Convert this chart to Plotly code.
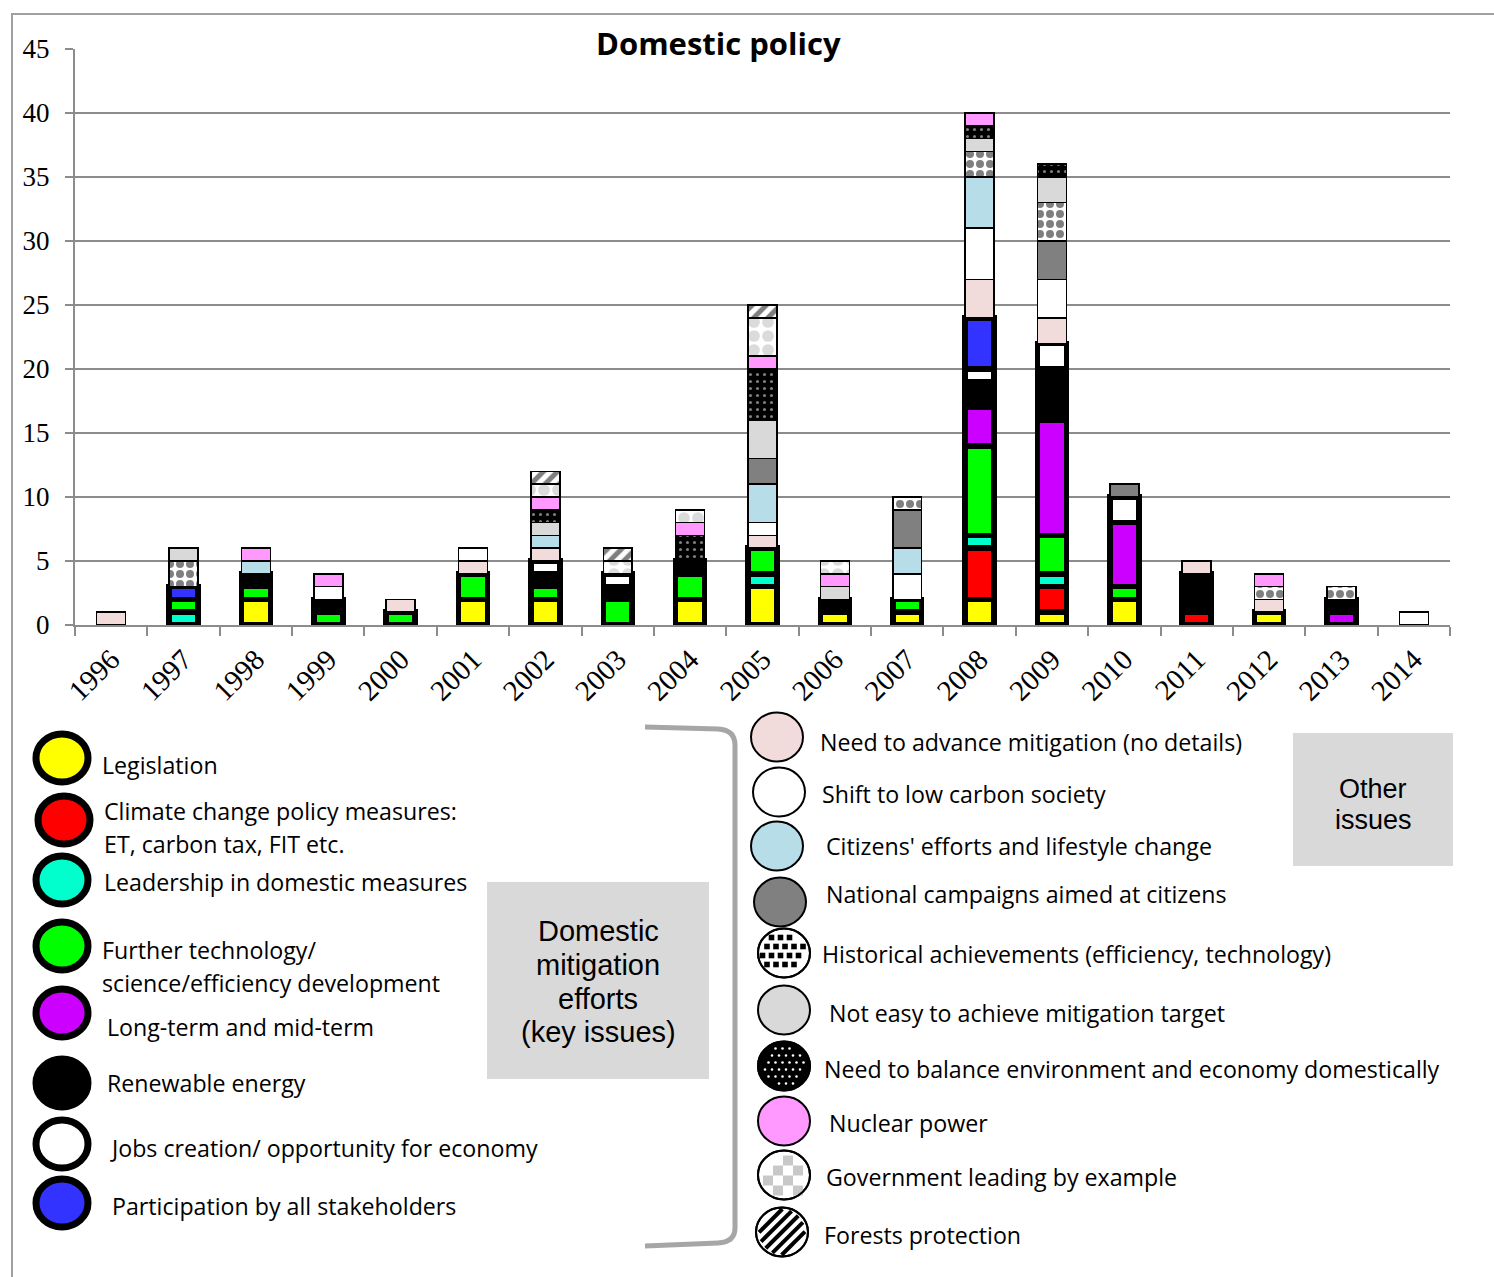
import plotly.graph_objects as go
import math

years = [str(y) for y in range(1996, 2015)]

# Key issues (domestic mitigation efforts)
legislation   = [0,0,2,0,0,2,2,0,2,3,1,1,2,1,2,0,1,0,0]
climate_pol   = [0,0,0,0,0,0,0,0,0,0,0,0,4,2,0,1,0,0,0]
leadership    = [0,1,0,0,0,0,0,0,0,1,0,0,1,1,0,0,0,0,0]
technology    = [0,1,1,1,1,2,1,2,2,2,0,1,7,3,1,0,0,0,0]
long_term     = [0,0,0,0,0,0,0,0,0,0,0,0,3,9,5,0,0,1,0]
renewable     = [0,0,1,1,0,0,1,1,1,0,1,0,2,4,0,3,0,1,0]
jobs          = [0,0,0,0,0,0,1,1,0,0,0,0,1,2,2,0,0,0,0]
participation = [0,1,0,0,0,0,0,0,0,0,0,0,4,0,0,0,0,0,0]
# Other issues
need_advance  = [1,0,0,0,1,1,1,0,0,1,0,0,3,2,0,1,1,0,0]
shift_lowc    = [0,0,0,1,0,1,0,0,0,1,0,2,4,3,0,0,0,0,1]
citizens      = [0,0,1,0,0,0,1,0,0,3,0,2,4,0,0,0,0,0,0]
national_camp = [0,0,0,0,0,0,0,0,0,2,0,3,0,3,1,0,0,0,0]
historical    = [0,2,0,0,0,0,0,0,0,0,0,1,2,3,0,0,1,1,0]
not_easy      = [0,1,0,0,0,0,1,0,0,3,1,0,1,2,0,0,0,0,0]
balance       = [0,0,0,0,0,0,1,0,2,4,0,0,1,1,0,0,0,0,0]
nuclear       = [0,0,1,1,0,0,1,0,1,1,1,0,1,0,0,0,1,0,0]
government    = [0,0,0,0,0,0,1,1,1,3,1,0,0,0,0,0,0,0,0]
forests       = [0,0,0,0,0,0,1,1,0,1,0,0,0,0,0,0,0,0,0]

key_series = [
    ("Legislation", legislation, "#FFFF00"),
    ("Climate change policy measures", climate_pol, "#FF0000"),
    ("Leadership in domestic measures", leadership, "#00FFCC"),
    ("Further technology", technology, "#00FF00"),
    ("Long-term and mid-term", long_term, "#CC00FF"),
    ("Renewable energy", renewable, "#000000"),
    ("Jobs creation", jobs, "#FFFFFF"),
    ("Participation by all stakeholders", participation, "#3333FF"),
]
other_series = [
    ("Need to advance mitigation", need_advance, "#F2DCDB", None),
    ("Shift to low carbon society", shift_lowc, "#FFFFFF", None),
    ("Citizens' efforts", citizens, "#B7DEE8", None),
    ("National campaigns", national_camp, "#808080", None),
    ("Historical achievements", historical, "#FFFFFF", dict(shape=".", fgcolor="#000000", bgcolor="#FFFFFF", size=10, solidity=0.5)),
    ("Not easy", not_easy, "#D9D9D9", None),
    ("Need to balance", balance, "#000000", dict(shape=".", fgcolor="#FFFFFF", bgcolor="#000000", size=7, solidity=0.15)),
    ("Nuclear power", nuclear, "#FF99FF", None),
    ("Government leading by example", government, "#FFFFFF", dict(shape=".", fgcolor="#B8B8B8", bgcolor="#FFFFFF", size=14, solidity=0.55)),
    ("Forests protection", forests, "#FFFFFF", dict(shape="/", fgcolor="#000000", bgcolor="#FFFFFF", size=10, solidity=0.5)),
]

def nz(v):
    return [x if x else None for x in v]

fig = go.Figure()
for name, vals, col in key_series:
    fig.add_trace(go.Bar(x=years, y=nz(vals), name=name,
                         marker=dict(color=col, line=dict(color="#000000", width=5.5))))
for name, vals, col, pat in other_series:
    m = dict(color=col, line=dict(color="#000000", width=1.5))
    if pat:
        m["pattern"] = pat
    fig.add_trace(go.Bar(x=years, y=nz(vals), name=name, marker=m))

L, R, T, B = 75, 1450, 49, 625
def PX(x): return (x - L) / (R - L)
def PY(y): return (B - y) / (B - T)

shapes = []
annotations = []

# outer frame
shapes.append(dict(type="rect", xref="paper", yref="paper", x0=PX(12), x1=PX(1520), y0=PY(14), y1=PY(1300),
                   line=dict(color="#A0A0A0", width=2), fillcolor="rgba(0,0,0,0)", layer="below"))

# title
annotations.append(dict(text="<b>Domestic policy</b>", x=PX(718), y=PY(43), xref="paper", yref="paper",
                        showarrow=False, xanchor="center", yanchor="middle", bgcolor="#FFFFFF",
                        font=dict(family="Open Sans", size=31, color="#000000")))

FS = 23.2

def circle(cx, cy, rx, ry, fill, lw):
    shapes.append(dict(type="circle", xref="paper", yref="paper", x0=PX(cx - rx), x1=PX(cx + rx),
                       y0=PY(cy + ry), y1=PY(cy - ry), fillcolor=fill, line=dict(color="#000000", width=lw)))

def text(s, x, y, size=FS, anchor="left"):
    annotations.append(dict(text=s, x=PX(x), y=PY(y), xref="paper", yref="paper", showarrow=False,
                            xanchor=anchor, yanchor="middle", font=dict(family="Open Sans", size=size, color="#000000")))

# left legend (key issues)
left_items = [
    ((62, 758), "#FFFF00", [("Legislation", 100, 765)]),
    ((64, 820), "#FF0000", [("Climate change policy measures:", 102, 811), ("ET, carbon tax, FIT etc.", 102, 844)]),
    ((62, 880), "#00FFCC", [("Leadership in domestic measures", 102, 882)]),
    ((62, 946), "#00FF00", [("Further technology/", 100, 950), ("science/efficiency development", 100, 983)]),
    ((62, 1013), "#CC00FF", [("Long-term and mid-term", 105, 1027)]),
    ((62, 1083), "#000000", [("Renewable energy", 105, 1083)]),
    ((62, 1144), "#FFFFFF", [("Jobs creation/ opportunity for economy", 108, 1148)]),
    ((62, 1203), "#3333FF", [("Participation by all stakeholders", 110, 1206)]),
]
for (cx, cy), col, lines in left_items:
    circle(cx, cy, 26, 24, col, 7)
    for s, x, y in lines:
        text(s, x, y)

# right legend (other issues)
right_items = [
    ((777, 737), "#F2DCDB", None, ("Need to advance mitigation (no details)", 818, 742)),
    ((779, 792), "#FFFFFF", None, ("Shift to low carbon society", 820, 794)),
    ((777, 846), "#B7DEE8", None, ("Citizens' efforts and lifestyle change", 824, 846)),
    ((780, 902), "#808080", None, ("National campaigns aimed at citizens", 824, 894)),
    ((784, 953), "#FFFFFF", "hist", ("Historical achievements (efficiency, technology)", 820, 954)),
    ((784, 1010), "#D9D9D9", None, ("Not easy to achieve mitigation target", 827, 1013)),
    ((784, 1066), "#000000", "bal", ("Need to balance environment and economy domestically", 822, 1069)),
    ((784, 1121), "#FF99FF", None, ("Nuclear power", 827, 1123)),
    ((784, 1175), "#FFFFFF", "gov", ("Government leading by example", 824, 1177)),
    ((782, 1232), "#FFFFFF", "for", ("Forests protection", 822, 1235)),
]
for (cx, cy), col, pat, (s, x, y) in right_items:
    rx, ry = 26, 24.5
    circle(cx, cy, rx, ry, col, 2)
    if pat in ("hist", "bal", "gov"):
        step = {"hist": 9, "bal": 7, "gov": 10}[pat]
        half = {"hist": 2.8, "bal": 1.3, "gov": 5}[pat]
        fc = {"hist": "#000000", "bal": "#FFFFFF", "gov": "#C8C8C8"}[pat]
        row = 0
        yy = cy - ry
        while yy <= cy + ry:
            if pat == "gov":
                off = step if row % 2 else 0
                xs_step = step * 2
            else:
                off = (step / 2) if row % 2 else 0
                xs_step = step
            xx = cx - rx + off
            while xx <= cx + rx:
                if ((xx - cx) / (rx - 4)) ** 2 + ((yy - cy) / (ry - 4)) ** 2 <= 1:
                    shapes.append(dict(type="rect" if pat != "bal" else "circle", xref="paper", yref="paper",
                                       x0=PX(xx - half), x1=PX(xx + half), y0=PY(yy + half), y1=PY(yy - half),
                                       fillcolor=fc, line=dict(width=0)))
                xx += xs_step
            yy += step
            row += 1
        circle(cx, cy, rx, ry, "rgba(0,0,0,0)", 2)
    if pat == "for":
        r = 23
        for c in (-16, -8, 0, 8, 16):
            h = math.sqrt(r * r - c * c)
            nx, ny = c / math.sqrt(2), c / math.sqrt(2)
            dx, dy = h / math.sqrt(2), -h / math.sqrt(2)
            shapes.append(dict(type="line", xref="paper", yref="paper",
                               x0=PX(cx + nx - dx), y0=PY(cy + ny - dy), x1=PX(cx + nx + dx), y1=PY(cy + ny + dy),
                               line=dict(color="#000000", width=4)))
        circle(cx, cy, rx, ry, "rgba(0,0,0,0)", 2)
    text(s, x, y)

# grey label boxes
shapes.append(dict(type="rect", xref="paper", yref="paper", x0=PX(487), x1=PX(709), y0=PY(1079), y1=PY(882),
                   fillcolor="#D9D9D9", line=dict(width=0)))
for s, y in [("Domestic", 931), ("mitigation", 965), ("efforts", 999), ("(key issues)", 1032)]:
    annotations.append(dict(text=s, x=PX(598), y=PY(y), xref="paper", yref="paper", showarrow=False,
                            xanchor="center", yanchor="middle", font=dict(family="Liberation Sans", size=29, color="#000000")))
shapes.append(dict(type="rect", xref="paper", yref="paper", x0=PX(1293), x1=PX(1453), y0=PY(866), y1=PY(733),
                   fillcolor="#D9D9D9", line=dict(width=0)))
for s, y in [("Other", 789), ("issues", 820)]:
    annotations.append(dict(text=s, x=PX(1373), y=PY(y), xref="paper", yref="paper", showarrow=False,
                            xanchor="center", yanchor="middle", font=dict(family="Liberation Sans", size=27, color="#000000")))

# bracket
pts = f"M {PX(645)},{PY(727)} L {PX(718)},{PY(729)} Q {PX(735)},{PY(730)} {PX(735)},{PY(745)} " \
      f"L {PX(735)},{PY(1228)} Q {PX(735)},{PY(1242)} {PX(718)},{PY(1243)} L {PX(645)},{PY(1246)}"
shapes.append(dict(type="path", xref="paper", yref="paper", path=pts, line=dict(color="#A6A6A6", width=5)))

fig.update_layout(
    barmode="stack", bargap=0.6, showlegend=False,
    width=1494, height=1277, autosize=False,
    margin=dict(l=L, r=1494 - R, t=T, b=1277 - B),
    paper_bgcolor="#FFFFFF", plot_bgcolor="#FFFFFF",
    shapes=shapes, annotations=annotations,
    xaxis=dict(type="category", tickangle=-45, showline=True, linecolor="#8C8C8C", linewidth=2,
               ticks="outside", tickson="boundaries", ticklen=9, tickcolor="#8C8C8C", tickwidth=2,
               ticklabelstandoff=4,
               showgrid=False, tickfont=dict(family="Liberation Serif", size=29, color="#000000")),
    yaxis=dict(range=[0, 45], dtick=5, showline=True, linecolor="#8C8C8C", linewidth=2,
               ticks="outside", ticklen=8, tickcolor="#8C8C8C", tickwidth=2,
               ticklabelstandoff=10,
               gridcolor="#8C8C8C", gridwidth=2, zeroline=False,
               tickfont=dict(family="Liberation Serif", size=27, color="#000000")),
)

fig.write_html("out.html")
